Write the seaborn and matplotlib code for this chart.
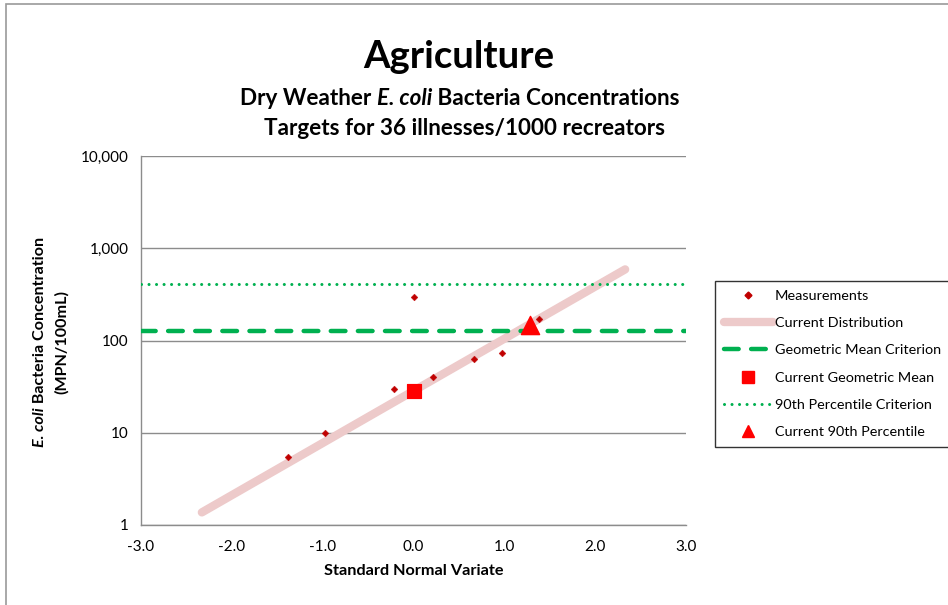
import numpy as np
import pandas as pd
import seaborn as sns
import matplotlib.pyplot as plt
from matplotlib.lines import Line2D
from matplotlib.patches import Rectangle
from matplotlib.ticker import FuncFormatter, FixedLocator

# measurements (standard normal variate, MPN/100mL)
meas_z = [-1.38, -0.97, -0.21, 0.00, 0.21, 0.67, 0.97, 1.38]
meas_conc = [5.4, 10.0, 29.6, 294, 40.5, 62.5, 73.0, 170]

# fitted lognormal distribution (end points of the straight line)
dist_z = [-2.33, 2.33]
dist_conc = [1.37, 590]

# summary statistics
geo_mean_z = [0.0]
geo_mean_conc = [28.0]
p90_z = [1.28]
p90_conc = [148]

# criteria
geo_mean_criterion = 126
p90_criterion = 410

x_ticks = [-3.0, -2.0, -1.0, 0.0, 1.0, 2.0, 3.0]
y_ticks = [1, 10, 100, 1000, 10000]

sns.set_style('white')
plt.rcParams['font.family'] = ['Lato', 'DejaVu Sans']
plt.rcParams['text.color'] = 'black'
plt.rcParams['xtick.color'] = 'black'
plt.rcParams['ytick.color'] = 'black'
plt.rcParams['axes.labelcolor'] = 'black'

W, H = 948, 605
fig = plt.figure(figsize=(W / 100, H / 100), dpi=100)
ax = fig.add_axes([141 / W, 1 - 525 / H, (686 - 141) / W, (525 - 156) / H])

# outer chart border
fig.patches.append(Rectangle((6 / W, -0.1), 1.2, 1 - 4 / H + 0.1, transform=fig.transFigure,
                             fill=False, edgecolor='#9a9a9a', linewidth=1.2, zorder=0))

red_dark = '#C00000'
green = '#00B050'

dist = pd.DataFrame({'z': dist_z, 'conc': dist_conc})
sns.lineplot(data=dist, x='z', y='conc', ax=ax, color='#EDCACA', linewidth=6,
             solid_capstyle='round', zorder=2)

ax.axhline(geo_mean_criterion, color=green, linewidth=3.2, dashes=(3.3, 2.8),
           dash_capstyle='round', zorder=3)
ax.axhline(p90_criterion, color=green, linewidth=2.2, dashes=(0.01, 2.45),
           dash_capstyle='round', zorder=3)

meas = pd.DataFrame({'z': meas_z, 'conc': meas_conc})
sns.scatterplot(data=meas, x='z', y='conc', ax=ax, marker='D', s=12, color=red_dark,
                edgecolor=red_dark, zorder=4)
sns.scatterplot(x=geo_mean_z, y=geo_mean_conc, ax=ax, marker='s', s=110, color='#FF0000',
                edgecolor='#FF0000', zorder=5)
sns.scatterplot(x=p90_z, y=p90_conc, ax=ax, marker='^', s=170, color='#FF0000',
                edgecolor='#FF0000', zorder=5)

ax.set_yscale('log')
ax.set_xlim(-3, 3)
ax.set_ylim(1, 10000)
ax.xaxis.set_major_locator(FixedLocator(x_ticks))
ax.yaxis.set_major_locator(FixedLocator(y_ticks))
ax.yaxis.set_minor_locator(FixedLocator([]))
ax.xaxis.set_major_formatter(FuncFormatter(lambda v, p: f'{v:.1f}'))
ax.yaxis.set_major_formatter(FuncFormatter(lambda v, p: f'{v:,.0f}'))
ax.tick_params(axis='both', which='major', direction='out', length=5, width=1,
               color='#8c8c8c', labelsize=11, pad=4)
ax.tick_params(axis='x', pad=6)
ax.grid(axis='y', color='#8c8c8c', linewidth=1)
ax.grid(axis='x', visible=False)
ax.set_axisbelow(True)
for side in ['top', 'right']:
    ax.spines[side].set_visible(False)
for side in ['left', 'bottom']:
    ax.spines[side].set_color('#8c8c8c')
    ax.spines[side].set_linewidth(1)
ax.set_xlabel('Standard Normal Variate', fontsize=11.7, fontweight='bold', labelpad=7)
ax.set_ylabel('')

handles = [
    Line2D([], [], linestyle='none', marker='D', markersize=3.5, color=red_dark),
    Line2D([], [], color='#EDCACA', linewidth=6, solid_capstyle='round'),
    Line2D([], [], color=green, linewidth=3.2, dashes=(3.3, 2.8), dash_capstyle='round'),
    Line2D([], [], linestyle='none', marker='s', markersize=8, color='#FF0000'),
    Line2D([], [], color=green, linewidth=2.2, dashes=(0.01, 2.45), dash_capstyle='round'),
    Line2D([], [], linestyle='none', marker='^', markersize=8, color='#FF0000'),
]
labels = ['Measurements', 'Current Distribution', 'Geometric Mean Criterion',
          'Current Geometric Mean', '90th Percentile Criterion', 'Current 90th Percentile']
leg = fig.legend(handles, labels, loc='upper left', bbox_to_anchor=(715 / W, 1 - 281 / H),
                 frameon=True, fancybox=False, fontsize=10.4, handlelength=3.4,
                 handletextpad=0.15, labelspacing=1.05, borderpad=0.6, borderaxespad=0)
leg.get_frame().set_edgecolor('black')
leg.get_frame().set_linewidth(1)

renderer = fig.canvas.get_renderer()


def rich_text(x, y, pieces, size, rotation=0):
    # pieces: list of (text, fontstyle); x, y in pixels from top-left
    widths = []
    for s, st in pieces:
        t = fig.text(0, 0, s, fontsize=size, fontweight='bold', fontstyle=st)
        widths.append(t.get_window_extent(renderer).width)
        t.remove()
    total = sum(widths)
    pos = -total / 2
    for (s, st), w in zip(pieces, widths):
        if rotation == 0:
            fig.text((x + pos) / W, 1 - y / H, s, fontsize=size, fontweight='bold',
                     fontstyle=st, ha='left', va='center')
        else:
            fig.text(x / W, 1 - (y - pos) / H, s, fontsize=size, fontweight='bold',
                     fontstyle=st, rotation=90, ha='center', va='bottom')
        pos += w


rich_text(459, 57, [('Agriculture', 'normal')], 27.5)
rich_text(460, 99, [('Dry Weather ', 'normal'), ('E. coli', 'italic'),
                    (' Bacteria Concentrations', 'normal')], 16.2)
rich_text(464, 128, [('Targets for 36 illnesses/1000 recreators', 'normal')], 16.2)
rich_text(40, 342, [('E. coli', 'italic'), (' Bacteria Concentration', 'normal')], 11.6,
          rotation=90)
rich_text(62, 342, [('(MPN/100mL)', 'normal')], 11.6, rotation=90)

fig.savefig('out.png', dpi=100)
